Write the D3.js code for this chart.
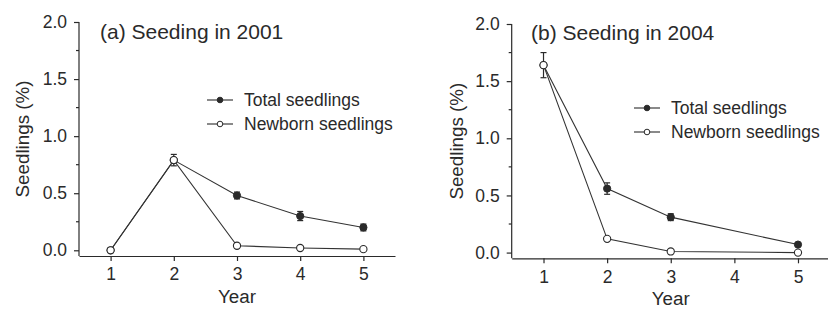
<!DOCTYPE html>
<html><head><meta charset="utf-8">
<script src="https://cdn.jsdelivr.net/npm/d3@7"></script>
<style>
html,body{margin:0;padding:0;background:#fff;}
svg{display:block;font-family:"Liberation Sans",Arial,sans-serif;}
</style></head>
<body>
<svg id="chart" width="828" height="312"></svg>
<script>
// ---- data ----
const xTicks = [1, 2, 3, 4, 5];
const yTicks = [0, 0.5, 1.0, 1.5, 2.0];
const yMinorTicks = [0.25, 0.75, 1.25, 1.75];
const seriesNames = ["Total seedlings", "Newborn seedlings"];

const yearsA = [1, 2, 3, 4, 5];
const totalA = [0, 0.79, 0.48, 0.30, 0.20];
const totalErrA = [0, 0.05, 0.03, 0.04, 0.03];
const newbornA = [0, 0.79, 0.04, 0.02, 0.01];

const yearsB = [1, 2, 3, 5];
const totalB = [1.64, 0.56, 0.31, 0.07];
const totalErrB = [0.11, 0.05, 0.03, 0.01];
const newbornB = [1.64, 0.12, 0.01, 0.0];

const panels = [
  {title: "(a) Seeding in 2001", years: yearsA, total: totalA, err: totalErrA, newborn: newbornA,
   x0: 79, x1: 395, yTop: 22, yBot: 256, titleX: 100, titleY: 39, legX: 207, legY: 100, ylabX: 22},
  {title: "(b) Seeding in 2004", years: yearsB, total: totalB, err: totalErrB, newborn: newbornB,
   x0: 511.7, x1: 829.8, yTop: 24, yBot: 258.3, titleX: 531, titleY: 40, legX: 634, legY: 108, ylabX: 456}
];

const svg = d3.select("#chart");
const ink = "#2a2a2a";
const lineCol = "#333";

panels.forEach(p => {
  const g = svg.append("g");
  const x = d3.scaleLinear().domain([0.5, 5.5]).range([p.x0, p.x1]);
  const y = d3.scaleLinear().domain([-0.05, 2.0]).range([p.yBot, p.yTop]);

  // y axis
  const yAxis = g.append("g").attr("transform", `translate(${p.x0},0)`)
    .call(d3.axisLeft(y).tickValues(yTicks).tickFormat(d3.format(".1f")).tickSize(5).tickSizeOuter(0).tickPadding(7));
  yAxis.select(".domain").attr("d", `M0,${y(2.0)}V${p.yBot}`);
  g.append("g").attr("transform", `translate(${p.x0},0)`)
    .selectAll("line").data(yMinorTicks).join("line")
    .attr("x1", -3).attr("x2", 0).attr("y1", d => y(d)).attr("y2", d => y(d));

  // x axis
  g.append("g").attr("transform", `translate(0,${p.yBot})`)
    .call(d3.axisBottom(x).tickValues(xTicks).tickFormat(d3.format("d")).tickSize(5).tickSizeOuter(0).tickPadding(7));

  g.selectAll(".domain, .tick line, line").attr("stroke", ink).attr("stroke-width", 1.2);
  g.selectAll(".tick text").attr("font-size", 17.5).attr("fill", ink).attr("font-family", "Liberation Sans, Arial, sans-serif");

  // axis titles
  g.append("text").attr("x", x(3)).attr("y", p.yBot + 47).attr("text-anchor", "middle")
    .attr("font-size", 18.8).attr("fill", ink).text("Year");
  g.append("text").attr("transform", `translate(${p.ylabX},${(y(2.0)+p.yBot)/2}) rotate(-90)`)
    .attr("text-anchor", "middle").attr("dominant-baseline", "central")
    .attr("font-size", 18.8).attr("fill", ink).text("Seedlings (%)");

  // title
  g.append("text").attr("x", p.titleX).attr("y", p.titleY).attr("font-size", 21).attr("fill", ink).text(p.title);

  const line = d3.line().x(d => x(d[0])).y(d => y(d[1]));
  const totPts = p.years.map((yr, i) => [yr, p.total[i], p.err[i]]);
  const newPts = p.years.map((yr, i) => [yr, p.newborn[i]]);

  g.append("path").datum(totPts).attr("d", line).attr("fill", "none").attr("stroke", lineCol).attr("stroke-width", 1.1);
  g.append("path").datum(newPts).attr("d", line).attr("fill", "none").attr("stroke", lineCol).attr("stroke-width", 1.1);

  // error bars
  const eb = g.append("g").attr("stroke", ink).attr("stroke-width", 1.2);
  totPts.filter(d => d[2] > 0).forEach(d => {
    const cx = x(d[0]);
    eb.append("line").attr("x1", cx).attr("x2", cx).attr("y1", y(d[1] + d[2])).attr("y2", y(d[1] - d[2]));
    eb.append("line").attr("x1", cx - 3).attr("x2", cx + 3).attr("y1", y(d[1] + d[2])).attr("y2", y(d[1] + d[2]));
    eb.append("line").attr("x1", cx - 3).attr("x2", cx + 3).attr("y1", y(d[1] - d[2])).attr("y2", y(d[1] - d[2]));
  });

  g.selectAll("circle.tot").data(totPts).join("circle").attr("class", "tot")
    .attr("cx", d => x(d[0])).attr("cy", d => y(d[1])).attr("r", 3.6)
    .attr("fill", ink).attr("stroke", ink);
  g.selectAll("circle.nb").data(newPts).join("circle").attr("class", "nb")
    .attr("cx", d => x(d[0])).attr("cy", d => y(d[1])).attr("r", 3.6)
    .attr("fill", "#fff").attr("stroke", ink).attr("stroke-width", 1.1);

  // legend
  seriesNames.forEach((name, i) => {
    const ly = p.legY + i * 24;
    const lg = g.append("g");
    lg.append("line").attr("x1", p.legX).attr("x2", p.legX + 26).attr("y1", ly).attr("y2", ly)
      .attr("stroke", ink).attr("stroke-width", 1.1);
    lg.append("circle").attr("cx", p.legX + 13).attr("cy", ly).attr("r", 2.8)
      .attr("fill", i === 0 ? ink : "#fff").attr("stroke", ink).attr("stroke-width", 1);
    lg.append("text").attr("x", p.legX + 37).attr("y", ly).attr("dominant-baseline", "central")
      .attr("font-size", 17.5).attr("fill", ink).text(name);
  });
});
</script>
</body></html>
